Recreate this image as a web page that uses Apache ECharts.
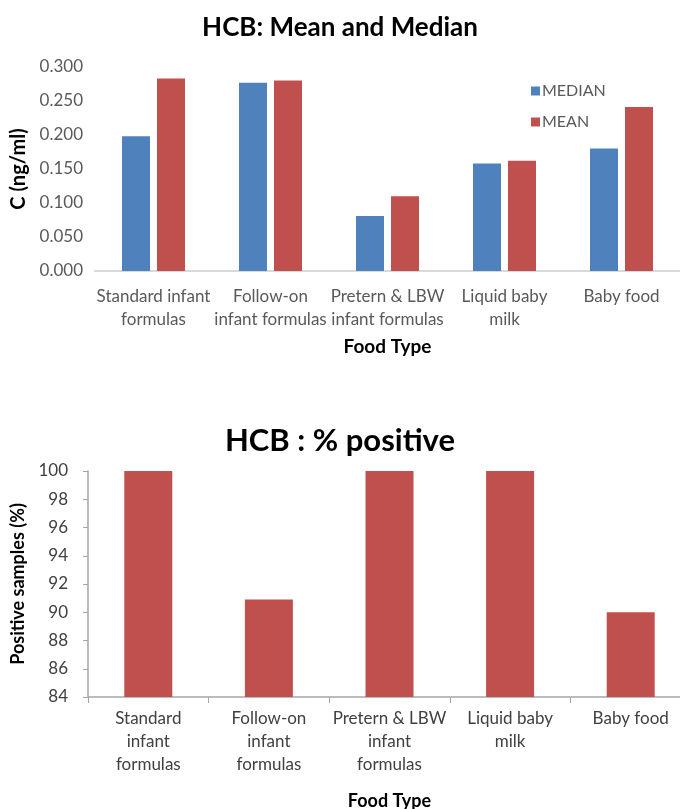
<!DOCTYPE html>
<html><head><meta charset="utf-8">
<script src="https://cdn.jsdelivr.net/npm/echarts@6/dist/echarts.min.js"></script>
<style>html,body{margin:0;padding:0;background:#fff}#c{width:680px;height:809px}</style>
</head><body><div id="c"></div>
<script>
const categoriesTop = ['Standard infant\nformulas', 'Follow-on\ninfant formulas', 'Pretern & LBW\ninfant formulas', 'Liquid baby\nmilk', 'Baby food'];
const categoriesBottom = ['Standard\ninfant\nformulas', 'Follow-on\ninfant\nformulas', 'Pretern & LBW\ninfant\nformulas', 'Liquid baby\nmilk', 'Baby food'];
const medianValues = [0.198, 0.277, 0.081, 0.158, 0.180];
const meanValues = [0.283, 0.280, 0.110, 0.162, 0.241];
const positiveValues = [100, 90.9, 100, 100, 90.0];

const FONT = 'Lato, "Open Sans", sans-serif';
const chart = echarts.init(document.getElementById('c'));
chart.setOption({
  animation: false,
  textStyle: { fontFamily: FONT },
  title: [
    { text: 'HCB: Mean and Median', left: 'center', top: 10,
      textStyle: { fontFamily: FONT, fontSize: 26, fontWeight: 'bold', color: '#000' } },
    { text: 'HCB : % positive', left: 'center', top: 420,
      textStyle: { fontFamily: FONT, fontSize: 31, fontWeight: 'bold', color: '#000' } }
  ],
  legend: {
    orient: 'vertical', left: 526, top: 78, itemGap: 15, itemWidth: 9, itemHeight: 9,
    icon: 'rect',
    textStyle: { fontFamily: FONT, fontSize: 16, color: '#595959', padding: [0, 0, 0, -3] },
    data: ['MEDIAN', 'MEAN']
  },
  grid: [
    { left: 95, right: 0, top: 67, bottom: 538, outerBoundsMode: 'none' },
    { left: 88, right: -11, top: 471, bottom: 112, outerBoundsMode: 'none' }
  ],
  xAxis: [
    { type: 'category', gridIndex: 0, data: categoriesTop,
      axisLine: { lineStyle: { color: '#d9d9d9', width: 2 } },
      axisTick: { show: false },
      axisLabel: { interval: 0, fontSize: 17, lineHeight: 23, color: '#595959', margin: 14 },
      name: 'Food Type', nameLocation: 'middle', nameGap: 66,
      nameTextStyle: { fontSize: 19, fontWeight: 'bold', color: '#000' } },
    { type: 'category', gridIndex: 1, data: categoriesBottom,
      axisLine: { lineStyle: { color: '#a6a6a6', width: 1.5 } },
      axisTick: { show: true, length: 6, lineStyle: { color: '#a6a6a6' } },
      axisLabel: { interval: 0, fontSize: 17, lineHeight: 23, color: '#404040', margin: 10 },
      name: 'Food Type', nameLocation: 'middle', nameGap: 95,
      nameTextStyle: { fontSize: 18, fontWeight: 'bold', color: '#000' } }
  ],
  yAxis: [
    { type: 'value', gridIndex: 0, min: 0, max: 0.3, interval: 0.05,
      axisLine: { show: false }, axisTick: { show: false }, splitLine: { show: false },
      axisLabel: { fontSize: 17, color: '#595959', margin: 12, formatter: v => v.toFixed(3) },
      name: 'C (ng/ml)', nameLocation: 'middle', nameGap: 63,
      nameTextStyle: { fontSize: 20, fontWeight: 'bold', color: '#000' } },
    { type: 'value', gridIndex: 1, min: 84, max: 100, interval: 2,
      axisLine: { show: true, lineStyle: { color: '#a6a6a6', width: 1.5 } },
      axisTick: { show: true, length: 5, lineStyle: { color: '#a6a6a6' } },
      splitLine: { show: false },
      axisLabel: { fontSize: 17, color: '#404040', margin: 20 },
      name: 'Positive samples (%)', nameLocation: 'middle', nameGap: 57,
      nameTextStyle: { fontSize: 18, fontWeight: 'bold', color: '#000' } }
  ],
  series: [
    { name: 'MEDIAN', type: 'bar', xAxisIndex: 0, yAxisIndex: 0, data: medianValues,
      barWidth: 28, barGap: '25%', itemStyle: { color: '#4F81BD' } },
    { name: 'MEAN', type: 'bar', xAxisIndex: 0, yAxisIndex: 0, data: meanValues,
      barWidth: 28, barGap: '25%', itemStyle: { color: '#C0504D' } },
    { name: 'Positive', type: 'bar', xAxisIndex: 1, yAxisIndex: 1, data: positiveValues,
      barWidth: 48, itemStyle: { color: '#C0504D' } }
  ]
});
</script></body></html>
